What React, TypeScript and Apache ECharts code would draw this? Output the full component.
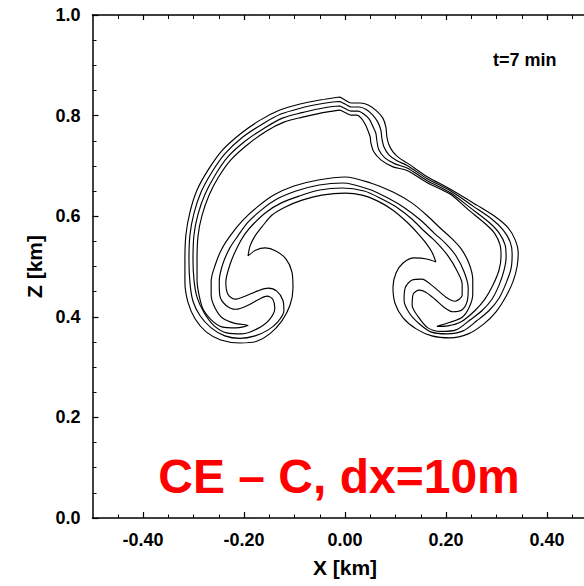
import React, { useEffect, useRef } from "react";
import * as echarts from "echarts";

// Axis ticks (km)
const xMajorTicks = [-0.4, -0.2, 0, 0.2, 0.4];
const xMinorTicks = [-0.45, -0.35, -0.3, -0.25, -0.15, -0.1, -0.05, 0.05, 0.1, 0.15, 0.25, 0.3, 0.35, 0.45];
const yMajorTicks = [0, 0.2, 0.4, 0.6, 0.8, 1.0];
const yMinorTicks = [0.05, 0.1, 0.15, 0.25, 0.3, 0.35, 0.45, 0.5, 0.55, 0.65, 0.7, 0.75, 0.85, 0.9, 0.95];

// Contour lines, points as [x, z] in metres (outermost level first)
const contour1: [number, number][] = [
  [-10, 837], [0, 831], [12, 825], [30, 825], [46, 821], [63, 809], [75, 795], [81, 777], [83, 757], [87, 742],
  [95, 728], [107, 716], [123, 706], [162, 679], [208, 654], [261, 622], [299, 598], [323, 577], [337, 553], [343, 527],
  [341, 501], [333, 471], [319, 441], [299, 410], [275, 386], [244, 366], [208, 358], [172, 362], [141, 376], [115, 398],
  [99, 427], [95, 459], [101, 487], [115, 507], [137, 517], [162, 515], [180, 509], [172, 529], [160, 547], [145, 565],
  [123, 588], [95, 612], [65, 630], [34, 642], [0, 646], [-46, 642], [-85, 632], [-119, 618], [-145, 602], [-162, 582],
  [-178, 561], [-188, 541], [-192, 521], [-176, 533], [-158, 537], [-137, 531], [-117, 515], [-105, 489], [-103, 457], [-109, 423],
  [-125, 392], [-149, 366], [-176, 351], [-208, 348], [-246, 354], [-275, 370], [-297, 396], [-311, 429], [-317, 469], [-317, 513],
  [-315, 563], [-307, 608], [-293, 652], [-271, 692], [-244, 730], [-208, 763], [-168, 791], [-129, 811], [-89, 823], [-50, 831],
  [-24, 835], [-10, 837],
];

const contour2: [number, number][] = [
  [-10, 828], [2, 822], [12, 817], [28, 817], [42, 812], [55, 801], [65, 787], [71, 771], [73, 755], [77, 738],
  [87, 722], [103, 710], [123, 701], [162, 675], [208, 651], [255, 619], [291, 594], [313, 573], [327, 549], [331, 525],
  [329, 497], [319, 467], [305, 437], [285, 412], [261, 392], [234, 372], [202, 366], [170, 370], [145, 388], [127, 408],
  [117, 433], [119, 457], [133, 473], [152, 475], [174, 461], [200, 439], [218, 431], [232, 443], [232, 465], [222, 491],
  [204, 521], [180, 549], [156, 571], [133, 594], [105, 616], [73, 634], [38, 650], [-6, 656], [-50, 652], [-91, 640],
  [-127, 626], [-156, 608], [-180, 586], [-198, 565], [-214, 537], [-228, 503], [-236, 469], [-232, 445], [-218, 435], [-198, 441],
  [-174, 451], [-152, 457], [-135, 451], [-123, 433], [-121, 412], [-133, 390], [-152, 374], [-178, 362], [-208, 357], [-238, 362],
  [-265, 378], [-287, 402], [-301, 431], [-307, 467], [-309, 513], [-307, 563], [-299, 606], [-285, 648], [-264, 687], [-238, 724],
  [-203, 757], [-164, 783], [-127, 803], [-87, 815], [-50, 823], [-24, 827], [-10, 828],
];

const contour3: [number, number][] = [
  [-10, 819], [2, 813], [12, 809], [26, 809], [36, 804], [48, 793], [55, 779], [61, 765], [63, 751], [67, 732],
  [79, 716], [99, 704], [123, 696], [162, 671], [208, 647], [249, 616], [285, 588], [305, 567], [317, 543], [319, 519],
  [315, 493], [305, 463], [291, 435], [271, 412], [248, 394], [220, 374], [190, 371], [164, 378], [145, 400], [133, 423],
  [135, 445], [147, 453], [160, 449], [178, 435], [196, 419], [214, 410], [232, 414], [242, 431], [244, 457], [236, 489],
  [220, 521], [200, 545], [176, 567], [150, 592], [119, 616], [85, 636], [46, 654], [-4, 666], [-51, 662], [-97, 650],
  [-135, 634], [-166, 612], [-192, 588], [-212, 561], [-228, 537], [-242, 505], [-249, 471], [-248, 443], [-236, 423], [-216, 415],
  [-192, 423], [-170, 435], [-154, 441], [-143, 435], [-139, 417], [-150, 394], [-174, 376], [-204, 366], [-234, 368], [-259, 382],
  [-279, 408], [-293, 439], [-299, 473], [-301, 513], [-299, 563], [-291, 604], [-277, 644], [-257, 682], [-232, 718], [-198, 749],
  [-160, 775], [-124, 795], [-85, 806], [-48, 814], [-24, 818], [-10, 819],
];

const contour4: [number, number][] = [
  [-10, 811], [2, 805], [12, 801], [24, 801], [32, 795], [40, 783], [46, 769], [50, 757], [51, 747], [57, 728],
  [71, 712], [95, 698], [123, 691], [162, 667], [208, 644], [244, 613], [279, 584], [297, 565], [307, 543], [309, 521],
  [305, 493], [293, 463], [277, 435], [257, 412], [230, 390], [204, 382], [182, 381], [208, 389], [232, 399], [246, 419],
  [253, 445], [253, 473], [246, 505], [230, 535], [210, 557], [190, 575], [164, 600], [133, 626], [95, 648], [51, 666],
  [0, 678], [-53, 672], [-101, 660], [-141, 642], [-174, 618], [-202, 592], [-226, 563], [-244, 535], [-257, 503], [-265, 471],
  [-265, 443], [-257, 417], [-242, 397], [-218, 387], [-192, 383], [-216, 378], [-244, 380], [-265, 394], [-281, 415], [-289, 443],
  [-293, 473], [-293, 513], [-291, 561], [-283, 602], [-269, 642], [-251, 677], [-226, 712], [-192, 743], [-156, 769], [-121, 787],
  [-84, 797], [-48, 805], [-24, 809], [-10, 811],
];

const contours = [contour1, contour2, contour3, contour4];

const timeLabel = "t=7 min";
const caseLabel = "CE \u2013 C, dx=10m";

const FONT = "'Liberation Sans', Arial, Helvetica, sans-serif";

export default function App() {
  const ref = useRef<HTMLDivElement>(null);

  useEffect(() => {
    if (!ref.current) return;
    const chart = echarts.init(ref.current, null, { renderer: "svg" });

    const axisLine = { show: true, onZero: false, lineStyle: { color: "#000", width: 1.5 } };
    const baseX = {
      type: "value",
      min: -0.5,
      max: 0.5,
      gridIndex: 0,
      splitLine: { show: false },
    };
    const baseY = {
      type: "value",
      min: 0,
      max: 1,
      gridIndex: 0,
      splitLine: { show: false },
    };

    const option: any = {
      animation: false,
      backgroundColor: "#fff",
      grid: { left: 92.5, right: 2.5, top: 15, bottom: 68, containLabel: false },
      xAxis: [
        {
          ...baseX,
          position: "bottom",
          axisLine,
          axisTick: { show: true, inside: true, length: 6, customValues: xMajorTicks, lineStyle: { color: "#000", width: 1.2 } },
          axisLabel: {
            show: true,
            customValues: xMajorTicks,
            formatter: (v: number) => v.toFixed(2),
            color: "#000",
            fontFamily: FONT,
            fontWeight: "bold",
            fontSize: 18,
            margin: 13,
          },
          name: "X [km]",
          nameLocation: "middle",
          nameGap: 49,
          nameTextStyle: { color: "#000", fontFamily: FONT, fontSize: 21, fontWeight: "bold", verticalAlign: "middle" },
        },
        {
          ...baseX,
          position: "bottom",
          axisLine: { show: false, onZero: false },
          axisTick: { show: true, inside: true, length: 3.5, customValues: xMinorTicks, lineStyle: { color: "#000", width: 1 } },
          axisLabel: { show: false },
        },
        {
          ...baseX,
          position: "top",
          axisLine,
          axisTick: { show: true, inside: true, length: 5, customValues: xMajorTicks, lineStyle: { color: "#000", width: 1.2 } },
          axisLabel: { show: false },
        },
        {
          ...baseX,
          position: "top",
          axisLine: { show: false, onZero: false },
          axisTick: { show: true, inside: true, length: 4, customValues: xMinorTicks, lineStyle: { color: "#000", width: 1 } },
          axisLabel: { show: false },
        },
      ],
      yAxis: [
        {
          ...baseY,
          position: "left",
          axisLine,
          axisTick: { show: true, inside: true, length: 6, customValues: yMajorTicks, lineStyle: { color: "#000", width: 1.2 } },
          axisLabel: {
            show: true,
            customValues: yMajorTicks,
            formatter: (v: number) => v.toFixed(1),
            color: "#000",
            fontFamily: FONT,
            fontWeight: "bold",
            fontSize: 18,
            margin: 12,
          },
          name: "Z [km]",
          nameLocation: "middle",
          nameGap: 50,
          nameRotate: 90,
          nameTextStyle: { color: "#000", fontFamily: FONT, fontSize: 21, fontWeight: "bold", verticalAlign: "middle" },
        },
        {
          ...baseY,
          position: "left",
          axisLine: { show: false, onZero: false },
          axisTick: { show: true, inside: true, length: 4, customValues: yMinorTicks, lineStyle: { color: "#000", width: 1 } },
          axisLabel: { show: false },
        },
        {
          ...baseY,
          position: "right",
          axisLine,
          axisTick: { show: true, inside: true, length: 5, customValues: yMajorTicks, lineStyle: { color: "#000", width: 1.2 } },
          axisLabel: { show: false },
        },
      ],
      series: contours.map((c, i) => ({
        name: "level " + (i + 1),
        type: "line",
        xAxisIndex: 0,
        yAxisIndex: 0,
        data: c.map(([x, z]) => [x / 1000, z / 1000]),
        showSymbol: false,
        symbol: "none",
        smooth: 0.3,
        lineStyle: { color: "#000", width: 1.15 },
        emphasis: { disabled: true },
        silent: true,
      })),
      graphic: [
        {
          type: "text",
          x: 493,
          y: 59.5,
          style: {
            text: timeLabel,
            fill: "#000",
            font: `bold 18px ${FONT}`,
            textAlign: "left",
            textVerticalAlign: "middle",
            align: "left",
            verticalAlign: "middle",
          },
        },
        {
          type: "text",
          x: 339,
          y: 476,
          style: {
            text: caseLabel,
            fill: "#ff0000",
            font: `bold 48px ${FONT}`,
            textAlign: "center",
            textVerticalAlign: "middle",
            align: "center",
            verticalAlign: "middle",
          },
        },
      ],
    };

    chart.setOption(option);
    return () => chart.dispose();
  }, []);

  return (
    <div
      style={{
        position: "fixed",
        left: 0,
        top: 0,
        width: 584,
        height: 586,
        overflow: "hidden",
        background: "#fff",
      }}
    >
      <div ref={ref} style={{ width: 600, height: 586 }} />
    </div>
  );
}
